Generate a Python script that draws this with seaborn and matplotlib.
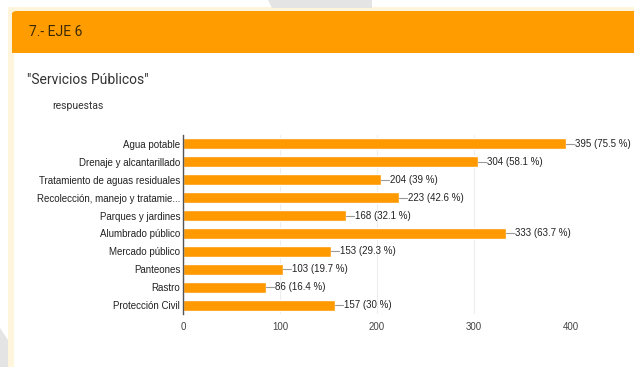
import matplotlib
matplotlib.use("Agg")
import matplotlib.pyplot as plt
import matplotlib.patches as mpatches
import seaborn as sns
import pandas as pd

categorias = [
    "Agua potable",
    "Drenaje y alcantarillado",
    "Tratamiento de aguas residuales",
    "Recolección, manejo y tratamie...",
    "Parques y jardines",
    "Alumbrado público",
    "Mercado público",
    "Panteones",
    "Rastro",
    "Protección Civil",
]
respuestas = [395, 304, 204, 223, 168, 333, 153, 103, 86, 157]
porcentajes = ["75.5", "58.1", "39", "42.6", "32.1", "63.7", "29.3", "19.7", "16.4", "30"]
ticks_x = [0, 100, 200, 300, 400]

naranja = "#ff9900"
W, H = 634, 367


def px(x, y):
    # pixeles (desde arriba a la izquierda) -> coordenadas de figura
    return (x / W, 1 - y / H)


sns.set_style("white")
plt.rcParams["font.family"] = ["Liberation Sans", "DejaVu Sans"]

fig = plt.figure(figsize=(6.34, 3.67), dpi=100)
fig.patch.set_facecolor("white")

# borde crema de la tarjeta
fig.patches.append(mpatches.Rectangle(px(8, 367), 6 / W, 360 / H, transform=fig.transFigure,
                                      facecolor="#fff5dd", edgecolor="none", zorder=0))
fig.patches.append(mpatches.Rectangle(px(8, 11), 1, 4 / H, transform=fig.transFigure,
                                      facecolor="#fff5dd", edgecolor="none", zorder=0))
# cabecera naranja (solo la esquina superior izquierda redondeada)
fig.patches.append(mpatches.FancyBboxPatch(px(12, 53), 640 / W, 42 / H, transform=fig.transFigure,
                                           boxstyle="round,pad=0,rounding_size=0.008",
                                           facecolor="#ff9c00", edgecolor="none", zorder=1))
fig.patches.append(mpatches.Rectangle(px(12, 53), 640 / W, 20 / H, transform=fig.transFigure,
                                      facecolor="#ff9c00", edgecolor="none", zorder=1))
# marca de agua
for pts in [
    [(268, 0), (352, 0), (360, 8), (272, 8)],
    [(347, 0), (372, 0), (372, 8), (355, 8)],
    [(0, 328), (8, 340), (8, 367), (0, 367)],
]:
    fig.patches.append(mpatches.Polygon([px(a, b) for a, b in pts], closed=True,
                                        transform=fig.transFigure, facecolor="#e4e4e4",
                                        edgecolor="none", zorder=0))

fig.text(*px(29, 32), "7.- EJE 6", fontsize=10, color="#3a2a05", va="center",
         family=["Roboto", "DejaVu Sans"])
fig.text(*px(27, 80), "\"Servicios Públicos\"", fontsize=10, color="#333333", va="center",
         family=["Roboto", "DejaVu Sans"])
fig.text(*px(52, 106), "respuestas", fontsize=7.5, color="#333333", va="center",
         family=["Roboto", "DejaVu Sans"])

ax = fig.add_axes([183 / W, 1 - 314 / H, (571 - 183) / W, (314 - 135) / H])
df = pd.DataFrame({"categoria": categorias, "respuestas": respuestas})
sns.barplot(data=df, x="respuestas", y="categoria", color=naranja, saturation=1,
            width=0.62, ax=ax, zorder=3)

ax.set_xlim(0, 400)
ax.set_ylim(len(categorias) - 0.5, -0.5)
ax.set_xticks(ticks_x)
ax.set_xlabel("")
ax.set_ylabel("")
ax.grid(axis="x", color="#eeeeee", linewidth=0.8, zorder=0)
for s in ["top", "right", "bottom"]:
    ax.spines[s].set_visible(False)
ax.spines["left"].set_color("#555555")
ax.spines["left"].set_linewidth(1)
ax.spines["left"].set_zorder(4)
ax.tick_params(axis="both", length=0, labelsize=7)
ax.tick_params(axis="x", colors="#444444", pad=6)
ax.tick_params(axis="y", colors="#222222", pad=2)

for i, (v, p) in enumerate(zip(respuestas, porcentajes)):
    ax.plot([v, v + 8], [i, i], color="#999999", linewidth=0.8, clip_on=False, zorder=3)
    ax.text(v + 9, i, f"{v} ({p} %)", fontsize=7, color="#222222", va="center",
            ha="left", clip_on=False)

fig.savefig("out.png", dpi=100)
